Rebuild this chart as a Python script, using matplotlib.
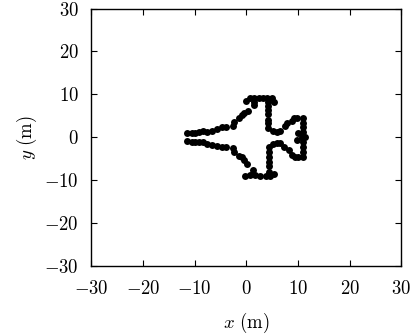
#!/usr/bin/env python3
import matplotlib
matplotlib.use("Agg")
import matplotlib.pyplot as plt

plt.rcParams["mathtext.fontset"] = "cm"
plt.rcParams["font.family"] = "cmr10"
plt.rcParams["axes.unicode_minus"] = False

# outline points
upper_x = [-11.4, -10.5, -9.9, -9.1, -8.3, -7.6, -6.6, -5.7, -4.7, -3.9, -2.6,
           -2.4, -1.5, -0.8, -0.5, 0.25, 0.0, 0.65, 1.55, 1.55, 1.55, 2.4, 3.2,
           4.1, 5.0, 5.3, 4.2, 4.2, 4.2, 4.2, 4.2, 4.2, 4.2, 5.1, 5.9, 6.6,
           7.4, 7.9, 8.8, 9.2, 9.9, 10.9, 10.9, 10.9, 10.1, 11.0]
upper_y = [0.9, 1.1, 1.1, 1.15, 1.55, 1.3, 1.55, 1.85, 2.3, 2.5, 2.6,
           3.6, 4.4, 5.2, 5.6, 6.2, 8.5, 9.1, 9.1, 8.3, 7.5, 9.1, 9.1,
           9.1, 9.1, 8.3, 8.3, 7.3, 6.4, 5.4, 4.0, 3.3, 2.1, 1.55, 1.3, 1.55,
           2.6, 3.3, 3.9, 4.4, 4.4, 4.4, 3.3, 2.3, 0.9, 1.3]
lower_x = [-11.4, -10.5, -9.9, -9.1, -8.3, -7.6, -6.6, -5.7, -4.7, -3.9, -2.6,
           -2.4, -1.5, -0.8, -0.5, 0.1, -0.2, 0.65, 1.3, 1.75, 2.7, 3.9, 4.65,
           5.3, 4.3, 4.3, 4.3, 4.3, 4.3, 4.3, 5.1, 5.9, 6.6, 7.2, 8.2, 8.8,
           9.5, 10.1, 10.9, 10.9, 10.9, 10.9, 9.8]
lower_y = [-0.86, -1.0, -1.0, -1.0, -1.2, -1.6, -1.8, -1.95, -2.3, -2.3, -2.6,
           -3.5, -4.3, -4.5, -5.3, -6.3, -8.95, -8.8, -7.6, -8.7, -8.95, -8.95, -8.95,
           -8.6, -8.0, -6.8, -5.7, -4.5, -3.35, -2.2, -1.55, -1.45, -1.45, -2.2, -2.95, -4.1,
           -4.5, -4.5, -4.5, -3.35, -2.2, -1.2, -0.6]
tail_x = [11.4, 10.8]
tail_y = [0.0, 0.1]

ticks = [-30, -20, -10, 0, 10, 20, 30]
tick_labels = [r"$-30$", r"$-20$", r"$-10$", r"$0$", r"$10$", r"$20$", r"$30$"]

fig = plt.figure(figsize=(4.14, 3.34), dpi=100)
ax = fig.add_axes([91.3 / 414, 1 - 266 / 334, 310 / 414, 257.5 / 334])

for xs, ys in [(upper_x, upper_y), (lower_x, lower_y), (tail_x, tail_y)]:
    ax.scatter(xs, ys, s=25, c="black", linewidths=0)

ax.set_xlim(-30, 30)
ax.set_ylim(-30, 30)
ax.set_xticks(ticks)
ax.set_yticks(ticks)
ax.set_xticklabels(tick_labels, fontsize=13.5)
ax.set_yticklabels(tick_labels, fontsize=13.5)
ax.tick_params(direction="in", length=4, width=0.8, top=True, right=True)
ax.tick_params(axis="x", pad=10)
ax.tick_params(axis="y", pad=9)
for spine in ax.spines.values():
    spine.set_linewidth(1.0)

ax.set_xlabel(r"$x\ \mathrm{(m)}$", fontsize=13.5, labelpad=9)
ax.set_ylabel(r"$y\ \mathrm{(m)}$", fontsize=13.5, labelpad=4)

fig.savefig("out.png", dpi=100)
